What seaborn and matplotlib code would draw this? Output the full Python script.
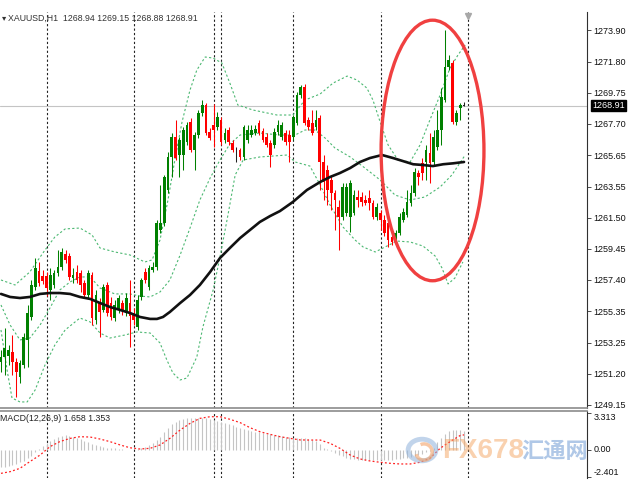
import matplotlib
matplotlib.use("Agg")
import matplotlib.pyplot as plt
import seaborn as sns
from matplotlib.patches import Ellipse, Circle, Arc

sns.set_theme(style="white")
plt.rcParams["font.family"] = ["Liberation Sans", "DejaVu Sans"]

# XAUUSD H1 candles, oldest first
opens = [1251.99, 1252.32, 1252.38, 1252.65, 1251.99, 1251.00, 1251.79, 1253.44, 1254.96, 1256.94,
         1257.99, 1257.66, 1257.66, 1256.74, 1257.07, 1257.86, 1258.26, 1259.12, 1258.98, 1257.53,
         1257.93, 1257.86, 1257.20, 1256.41, 1257.73, 1254.76, 1255.95, 1255.42, 1257.07, 1255.88,
         1254.89, 1255.42, 1255.88, 1255.22, 1255.88, 1255.22, 1254.30, 1256.28, 1257.93, 1256.94,
         1258.06, 1258.26, 1260.70, 1261.16, 1263.34, 1265.52, 1266.84, 1265.65, 1265.65, 1266.51,
         1267.83, 1265.98, 1266.97, 1268.42, 1268.95, 1267.17, 1267.63, 1267.50, 1267.96, 1266.64,
         1267.30, 1266.44, 1265.98, 1265.98, 1265.52, 1266.64, 1266.97, 1267.10, 1267.76, 1267.23,
         1266.84, 1266.44, 1266.31, 1267.17, 1266.84, 1267.10, 1266.97, 1266.84, 1267.76, 1269.61,
         1270.14, 1267.96, 1267.76, 1267.50, 1268.09, 1265.19, 1264.66, 1264.00, 1263.14, 1262.22,
         1261.56, 1261.82, 1261.56, 1261.82, 1262.88, 1262.88, 1262.68, 1262.81, 1262.48, 1261.56,
         1261.82, 1261.36, 1261.16, 1260.24, 1259.91, 1260.50, 1261.36, 1261.69, 1262.48, 1263.14,
         1264.46, 1265.12, 1265.19, 1265.78, 1265.19, 1266.18, 1267.30, 1269.28, 1271.46, 1271.72,
         1267.83, 1268.75, 1268.94]
highs = [1252.78, 1254.23, 1253.11, 1253.77, 1252.25, 1252.12, 1253.90, 1255.75, 1257.40, 1258.85,
         1258.59, 1258.06, 1257.93, 1258.19, 1258.06, 1259.38, 1259.51, 1259.38, 1259.18, 1258.19,
         1258.39, 1258.06, 1257.40, 1258.06, 1257.93, 1256.74, 1256.21, 1257.14, 1257.27, 1256.28,
         1256.08, 1256.41, 1256.08, 1256.54, 1257.40, 1255.55, 1256.41, 1257.53, 1258.19, 1258.39,
         1258.59, 1261.36, 1263.67, 1264.33, 1265.85, 1267.10, 1267.96, 1266.84, 1267.50, 1267.83,
         1268.09, 1267.17, 1268.62, 1269.28, 1269.08, 1267.43, 1269.02, 1268.49, 1268.16, 1267.43,
         1267.50, 1266.64, 1266.18, 1266.11, 1267.63, 1267.63, 1267.63, 1267.63, 1267.96, 1267.43,
         1267.10, 1266.64, 1267.43, 1267.96, 1267.83, 1267.30, 1267.30, 1268.29, 1269.81, 1270.27,
         1270.34, 1268.16, 1268.62, 1268.62, 1268.29, 1265.65, 1264.99, 1264.33, 1263.34, 1262.68,
         1263.80, 1263.80, 1264.00, 1263.34, 1263.34, 1263.21, 1263.01, 1263.34, 1262.68, 1262.48,
         1262.02, 1261.69, 1261.49, 1260.70, 1260.70, 1261.82, 1262.15, 1263.34, 1263.67, 1264.79,
         1264.66, 1265.45, 1266.31, 1267.10, 1267.30, 1268.62, 1270.07, 1273.90, 1272.25, 1271.92,
         1268.62, 1269.08, 1269.15]
lows = [1251.33, 1251.13, 1251.79, 1251.13, 1249.68, 1250.60, 1251.59, 1251.66, 1254.76, 1256.74,
        1257.00, 1257.14, 1256.34, 1256.08, 1256.87, 1257.66, 1258.06, 1258.52, 1257.40, 1257.20,
        1257.20, 1256.61, 1256.21, 1256.21, 1254.43, 1254.50, 1253.64, 1255.29, 1255.02, 1254.76,
        1254.70, 1255.22, 1255.09, 1255.02, 1252.98, 1254.43, 1254.10, 1256.08, 1257.20, 1256.74,
        1257.93, 1258.06, 1260.50, 1260.96, 1263.14, 1264.20, 1265.32, 1264.20, 1264.66, 1266.31,
        1265.85, 1264.66, 1266.77, 1268.22, 1266.97, 1266.64, 1266.18, 1267.30, 1266.31, 1266.44,
        1266.31, 1265.85, 1265.19, 1265.32, 1265.32, 1266.44, 1266.84, 1266.97, 1266.97, 1266.51,
        1266.18, 1264.86, 1266.11, 1266.97, 1266.64, 1266.31, 1265.19, 1266.64, 1267.63, 1269.41,
        1267.63, 1267.30, 1266.97, 1267.30, 1263.34, 1262.68, 1262.35, 1262.02, 1260.70, 1259.38,
        1261.36, 1261.62, 1260.57, 1261.69, 1262.22, 1262.28, 1262.35, 1262.02, 1261.43, 1261.36,
        1260.70, 1260.30, 1259.58, 1259.71, 1259.78, 1260.37, 1261.23, 1261.56, 1262.28, 1262.94,
        1263.67, 1264.00, 1264.00, 1263.80, 1264.99, 1265.98, 1266.31, 1269.15, 1271.26, 1267.70,
        1267.63, 1267.96, 1268.88]
closes = [1252.32, 1252.91, 1252.78, 1251.99, 1251.33, 1251.92, 1253.64, 1255.22, 1257.07, 1258.19,
          1257.20, 1257.33, 1256.87, 1257.73, 1257.86, 1258.26, 1259.25, 1258.72, 1257.60, 1257.73,
          1257.40, 1257.07, 1256.41, 1257.86, 1254.89, 1256.41, 1255.29, 1256.94, 1255.22, 1254.96,
          1255.75, 1256.21, 1255.42, 1256.21, 1255.02, 1254.76, 1256.08, 1257.40, 1257.40, 1258.19,
          1258.26, 1261.16, 1261.16, 1264.20, 1265.52, 1266.84, 1265.45, 1266.64, 1267.30, 1267.63,
          1265.98, 1266.97, 1268.42, 1268.95, 1267.10, 1266.77, 1267.30, 1268.16, 1266.51, 1267.10,
          1266.51, 1265.98, 1265.95, 1265.52, 1267.50, 1267.30, 1267.30, 1267.37, 1267.10, 1266.64,
          1266.31, 1265.65, 1267.17, 1267.63, 1267.63, 1266.51, 1266.51, 1268.16, 1269.61, 1270.14,
          1267.76, 1267.50, 1267.10, 1267.96, 1265.19, 1263.87, 1263.34, 1263.14, 1262.68, 1261.56,
          1263.54, 1263.54, 1263.80, 1263.01, 1262.68, 1262.55, 1262.48, 1262.48, 1261.56, 1262.22,
          1261.36, 1260.50, 1260.04, 1259.91, 1260.50, 1261.56, 1261.89, 1262.55, 1263.14, 1264.53,
          1264.20, 1264.46, 1265.98, 1265.12, 1266.84, 1267.30, 1269.48, 1271.46, 1271.92, 1267.83,
          1268.42, 1268.95, 1268.91]

# moving average (black) traced at bar positions
ma_idx = [0, 2.4, 5, 7.6, 10.3, 12.9, 15.5, 18.2, 20.8, 23.5, 26.1, 28.7, 31.4, 34, 36.6, 39.3,
          41.1, 42.7, 44.5, 47.2, 49.8, 52.4, 55.1, 57.7, 60.3, 63, 65.6, 68.2, 70.9, 73.5, 76.9,
          80.6, 84.1, 86.7, 89.3, 92, 94.6, 97.2, 100.4, 103.3, 105.9, 108.6, 111.2, 113.8, 116.5,
          119.1, 122]
ma_val = [1256.48, 1256.28, 1256.21, 1256.28, 1256.48, 1256.54, 1256.54, 1256.48, 1256.28, 1256.15,
          1255.88, 1255.62, 1255.42, 1255.22, 1254.96, 1254.83, 1254.83, 1254.96, 1255.29, 1255.88,
          1256.41, 1257.07, 1257.93, 1258.85, 1259.51, 1260.17, 1260.70, 1261.23, 1261.62, 1261.95,
          1262.55, 1263.34, 1263.87, 1264.20, 1264.46, 1264.79, 1265.19, 1265.45, 1265.65, 1265.45,
          1265.25, 1265.04, 1264.99, 1264.92, 1265.04, 1265.10, 1265.19]

# Bollinger bands
upper_idx = [0, 3.7, 7.6, 11.6, 14.2, 16.9, 20.8, 24, 26.1, 30, 34, 37.9, 39.8, 41.9, 44, 45.8,
             47.7, 49.8, 51.6, 53.8, 55.9, 58.2, 60.3, 62.4, 66.4, 72.7, 76.9, 80.1, 84.1, 87.5,
             91.2, 93.8, 96.4, 98, 99.9, 102, 104.6, 107.8, 110.4, 113, 115.7, 118.3, 120.4, 122.3]
upper_val = [1257.40, 1257.07, 1257.93, 1259.38, 1260.24, 1260.77, 1260.83, 1260.37, 1259.51, 1259.25,
             1259.05, 1258.59, 1258.72, 1260.04, 1262.68, 1265.32, 1267.83, 1269.94, 1271.26, 1272.12,
             1272.05, 1271.72, 1270.40, 1268.95, 1268.62, 1268.29, 1268.29, 1269.28, 1269.68, 1270.40,
             1270.86, 1270.60, 1270.07, 1269.28, 1267.83, 1266.31, 1265.32, 1265.19, 1266.31, 1267.96,
             1269.61, 1271.39, 1272.25, 1272.91]
mid_idx = [0, 2.4, 5, 7.6, 10.3, 12.9, 15.5, 18.2, 20.8, 23.5, 26.1, 30, 34, 36.6, 39.3, 41.9,
           44.5, 47.2, 49.8, 52.4, 55.1, 57.7, 60.3, 63, 68.2, 73.5, 77.5, 80.1, 82.7, 85.4, 88, 92,
           95.9, 99.9, 103.8, 107.8, 111.7, 115.7, 118.8, 122.3]
mid_val = [1255.75, 1254.43, 1253.44, 1253.57, 1254.43, 1255.55, 1256.74, 1257.27, 1257.60, 1257.60,
           1256.87, 1256.48, 1256.48, 1256.34, 1256.28, 1256.61, 1257.40, 1259.05, 1260.83, 1262.68,
           1264.13, 1265.32, 1266.38, 1266.97, 1267.10, 1266.97, 1266.97, 1267.30, 1267.30, 1266.77,
           1266.11, 1265.52, 1264.79, 1264.00, 1263.01, 1262.68, 1262.88, 1263.54, 1264.33, 1265.65]
lower_idx = [0, 1.6, 2.9, 5, 6.9, 9, 11.6, 14.2, 16.9, 20.8, 23.5, 26.1, 28.7, 32.7, 35.8, 39.3,
             41.9, 43.7, 45.3, 47.2, 49, 51.6, 53.2, 55.9, 57.7, 59.8, 61.7, 63.8, 68.2, 75.4, 77.5,
             81.4, 84.1, 86.7, 90.1, 93.3, 95.4, 98.6, 101.2, 104.3, 107.8, 111.2, 114.4, 116.2,
             117.8, 119.6, 121.7]
lower_val = [1254.10, 1251.46, 1249.61, 1249.35, 1249.35, 1250.14, 1251.79, 1253.11, 1254.10, 1254.89,
             1254.63, 1253.90, 1253.57, 1253.77, 1253.97, 1253.90, 1253.24, 1252.12, 1251.26, 1250.80,
             1250.93, 1252.32, 1254.30, 1256.74, 1258.92, 1261.69, 1264.33, 1265.32, 1265.52, 1265.65,
             1265.19, 1264.92, 1263.67, 1262.35, 1260.90, 1260.04, 1259.58, 1259.25, 1259.58, 1259.97,
             1259.91, 1259.64, 1258.98, 1258.19, 1257.14, 1257.53, 1258.59]

# MACD(12,26,9): histogram per bar and signal line
macd_hist = [-1.5, -1.5, -1.45, -1.35, -1.25, -1.1, -0.95, -0.75, -0.5, -0.2,
             0.1, 0.35, 0.6, 0.8, 1.0, 1.15, 1.25, 1.3, 1.28, 1.2,
             1.1, 0.95, 0.8, 0.7, 0.55, 0.45, 0.35, 0.28, 0.22, 0.18,
             0.14, 0.1, 0.06, 0.03, 0.0, -0.02, 0.05, 0.15, 0.3, 0.45,
             0.6, 0.9, 1.2, 1.6, 2.0, 2.3, 2.5, 2.65, 2.75, 2.82,
             2.86, 2.88, 2.89, 2.89, 2.86, 2.8, 2.72, 2.62, 2.5, 2.4,
             2.3, 2.2, 2.1, 2.0, 1.9, 1.8, 1.72, 1.65, 1.58, 1.5,
             1.45, 1.4, 1.35, 1.3, 1.25, 1.2, 1.15, 1.1, 1.1, 1.1,
             1.05, 1.0, 0.9, 0.8, 0.5, 0.2, 0.1, -0.1, -0.3, -0.45,
             -0.55, -0.7, -0.8, -0.85, -0.88, -0.9, -0.9, -0.9, -0.9, -0.9,
             -0.9, -0.9, -0.9, -0.88, -0.85, -0.8, -0.75, -0.7, -0.6, -0.5,
             -0.45, -0.35, -0.2, -0.1, 0.2, 0.75, 1.1, 1.4, 1.7, 1.8,
             1.82, 1.8, 1.658]
sig_idx = [0, 2.4, 5, 7.6, 10.3, 12.9, 15.5, 18.2, 20.8, 23.5, 26.1, 28.7, 31.4, 34, 36.6, 39.3,
           41.9, 44.5, 47.2, 49.8, 52.4, 55.1, 57.7, 60.3, 63, 65.6, 68.2, 70.9, 73.5, 76.2, 78.8,
           81.4, 84.1, 86.7, 89.3, 92, 94.6, 97.2, 99.9, 102.5, 105.1, 107.8, 110.4, 113, 115.7,
           118.3, 121, 122]
sig_val = [-2.09, -1.94, -1.64, -1.04, -0.45, 0.3, 0.75, 1.04, 1.19, 1.16, 0.98, 0.75, 0.45, 0.2,
           0.09, 0.15, 0.45, 1.04, 1.79, 2.38, 2.83, 2.98, 2.98, 2.75, 2.45, 2.0, 1.64, 1.4, 1.19,
           1.04, 0.9, 0.89, 0.89, 0.6, 0.15, -0.45, -0.8, -0.98, -1.1, -1.19, -1.25, -1.25, -1.1,
           -0.75, 0.15, 0.75, 1.3, 1.353]

# period separators (bar positions) and axis labels
sep_idx = [12.12, 35.05, 56.13, 57.97, 76.94, 100.13, 123.06]
price_ticks = [1273.90, 1271.80, 1269.75, 1267.70, 1265.65, 1263.55, 1261.50,
               1259.45, 1257.40, 1255.35, 1253.25, 1251.20, 1249.15]
macd_ticks = [3.313, 0.0, -2.401]
macd_labels = ["3.313", "0.00", "-2.401"]
last_price = 1268.91

UP, DOWN = "#008000", "#ff0000"
BAND = "#4cb872"

fig = plt.figure(figsize=(6.3, 4.9), dpi=100)
ax = fig.add_axes([0, 1 - 408 / 490, 587 / 630, 396 / 490])
axm = fig.add_axes([0, 1 - 478 / 490, 587 / 630, 67 / 490])

idx = list(range(len(closes)))
for a in (ax, axm):
    a.set_xlim(-0.26, 154.4)
    a.set_facecolor("white")
    for s in a.spines.values():
        s.set_visible(False)
    a.spines["right"].set_visible(True)
    a.spines["right"].set_color("#303030")
    a.spines["right"].set_linewidth(0.8)
    a.yaxis.tick_right()
    a.tick_params(axis="y", which="both", right=True, length=3, width=0.6,
                  color="#303030", pad=1.5, labelsize=6.5, labelcolor="#111111")
    a.set_xticks([])
    for s in sep_idx:
        a.axvline(s, color="#222222", lw=0.8, ls=(0, (2, 2)), zorder=1)

ax.spines["bottom"].set_visible(True)
ax.spines["bottom"].set_color("#909090")
axm.spines["top"].set_visible(True)
axm.spines["top"].set_color("#909090")

# main panel
ax.set_ylim(1248.95, 1275.09)
ax.axhline(last_price, color="#c4c4c4", lw=0.8, zorder=1)

sns.lineplot(x=upper_idx, y=upper_val, ax=ax, color=BAND, lw=0.8, ls=(0, (2, 2)), zorder=2)
sns.lineplot(x=mid_idx, y=mid_val, ax=ax, color=BAND, lw=0.8, ls=(0, (2, 2)), zorder=2)
sns.lineplot(x=lower_idx, y=lower_val, ax=ax, color=BAND, lw=0.8, ls=(0, (2, 2)), zorder=2)

colors = []
for o, c in zip(opens, closes):
    if abs(c - o) < 0.05:
        colors.append("#222222")
    else:
        colors.append(UP if c > o else DOWN)
ax.vlines(idx, lows, highs, colors=colors, lw=0.75, zorder=3)
bottoms = [min(o, c) for o, c in zip(opens, closes)]
heights = [max(abs(c - o), 0.05) for o, c in zip(opens, closes)]
ax.bar(idx, heights, bottom=bottoms, width=0.72, color=colors, linewidth=0, zorder=3)

sns.lineplot(x=ma_idx, y=ma_val, ax=ax, color="#111111", lw=1.9, zorder=4)

ax.set_yticks(price_ticks)
ax.set_yticklabels([f"{p:.2f}" for p in price_ticks])
ax.text(1.0085, last_price, f"{last_price:.2f}", transform=ax.get_yaxis_transform(),
        ha="left", va="center", fontsize=6.5, color="white", clip_on=False,
        bbox=dict(boxstyle="square,pad=0.15", fc="black", ec="black"))

ax.add_patch(Ellipse((113.7, 1265.95), 27.1, 17.2, fill=False, ec="#f04040", lw=2.4, zorder=5))
ax.plot([sep_idx[-1]], [1274.85], marker="v", ms=4.5, color="#a8a8a8", clip_on=False, zorder=6)

ax.text(0.003, 0.985, "\u25be", transform=ax.transAxes, fontsize=6, color="#333333",
        ha="left", va="center", family="DejaVu Sans")
ax.text(0.013, 0.985, "XAUUSD,H1  1268.94 1269.15 1268.88 1268.91", transform=ax.transAxes,
        fontsize=6.3, color="#333333", ha="left", va="center")

# MACD panel
axm.set_ylim(-2.506, 3.49)
axm.vlines(idx, 0, macd_hist, colors="#c4c4c4", lw=0.8, zorder=2)
sns.lineplot(x=sig_idx, y=sig_val, ax=axm, color="#ff2020", lw=0.9, ls=(0, (1.5, 1.8)), zorder=3)
axm.set_yticks(macd_ticks)
axm.set_yticklabels(macd_labels)
for lab, va in zip(axm.get_yticklabels(), ["top", "center", "bottom"]):
    lab.set_verticalalignment(va)
axm.text(0.0, 0.895, "MACD(12,26,9) 1.658 1.353", transform=axm.transAxes,
         fontsize=6.3, color="#222222", ha="left", va="center")

# watermark, kept left of the price scale so "0.00" stays readable
fig.patches.append(Circle((422 / 630, 1 - 450 / 490), 0.022, transform=fig.transFigure,
                          fill=False, ec="#8fb2dc", lw=3.5, alpha=0.55))
fig.patches.append(Arc((424 / 630, 1 - 452 / 490), 0.026, 0.033, theta1=200, theta2=470,
                       transform=fig.transFigure, ec="#f2a36a", lw=2.5, alpha=0.6))
fig.text(442 / 630, 1 - 451 / 490, "FX678", fontsize=20, fontweight="bold", color="#f4a460",
         alpha=0.5, ha="left", va="center")
fig.text(521 / 630, 1 - 451 / 490, "汇通网", fontsize=16, fontweight="bold", color="#6f9bd4",
         alpha=0.55, ha="left", va="center", family=["Noto Sans CJK SC", "DejaVu Sans"])

fig.savefig("out.png", dpi=100, facecolor="white")
